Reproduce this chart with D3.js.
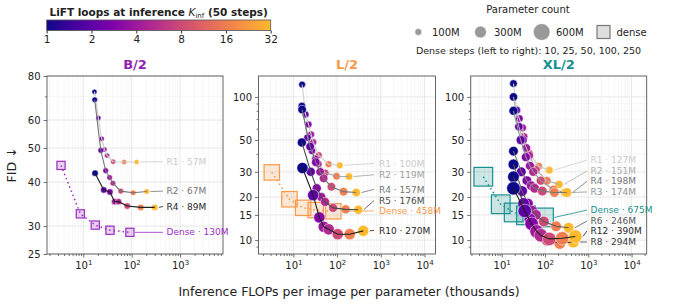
<!DOCTYPE html>
<html>
<head>
<meta charset="utf-8">
<script src="https://cdn.jsdelivr.net/npm/d3@7"></script>
<style>
body { margin: 0; background: #fff; }
text { font-family: "DejaVu Sans", sans-serif; }
</style>
</head>
<body>
<svg id="chart" width="694" height="305"></svg>
<script>
// inference loop counts (colour) and dense sampling steps
var kValues = [1, 2, 3, 4, 5, 8, 16, 32];
var colorTicks = [1, 2, 4, 8, 16, 32];
var denseSteps = [10, 25, 50, 100, 250];

// B/2
var b2R1X = [17, 20.5, 24, 27.5, 31, 41.5, 70, 126];
var b2R1Fid = [72.2, 60.8, 53.1, 49.5, 47.6, 45.7, 45.6, 45.6];
var b2R2X = [17.2, 23, 29, 35, 41, 59.5, 107, 205];
var b2R2Fid = [68.5, 49.2, 43.1, 41.2, 39.7, 37.7, 37.3, 37.6];
var b2R4X = [17.5, 26.5, 35.5, 44.5, 53.5, 81, 154, 300];
var b2R4Fid = [42.4, 38.0, 37.5, 35.2, 35.2, 34.2, 33.9, 33.9];
var b2DenseX = [3.46, 8.7, 17.7, 35.6, 92];
var b2DenseFid = [44.6, 32.5, 30.2, 29.2, 28.8];

// L/2
var l2R1X = [15.8, 19, 22.2, 25.4, 28.5, 38, 63.7, 114.6];
var l2R1Fid = [122, 75.4, 64.2, 54.7, 48.3, 39.2, 33.9, 33.3];
var l2R2X = [15.6, 21, 26.5, 31.8, 37.2, 53.5, 97, 187];
var l2R2Fid = [86.5, 52, 42, 37, 34, 29.5, 27.9, 27.8];
var l2R4X = [15.8, 24.1, 32.5, 40.8, 49.1, 74, 140, 274];
var l2R4Fid = [81.6, 45, 35, 30, 27, 23.6, 21.8, 21.5];
var l2R5X = [15.6, 24.9, 34.2, 43.5, 52.9, 80.8, 157, 305];
var l2R5Fid = [48.1, 30, 23, 20, 18.5, 16.8, 16.4, 16.3];
var l2R10X = [16.1, 28.3, 39.2, 49.4, 64.3, 103, 194, 396];
var l2R10Fid = [31.9, 20.6, 14.4, 12.4, 11.9, 11.0, 11.0, 11.6];
var l2DenseX = [3.2, 8.1, 16.7, 32.4, 81.8];
var l2DenseFid = [29.7, 19.3, 16.8, 16.2, 15.9];

// XL/2
var xl2R1X = [18.7, 22.2, 25.5, 30.5, 32.7, 43.4, 71.5, 125.6];
var xl2R1Fid = [124, 80.8, 70.7, 60.8, 52.9, 40.3, 32.8, 30.8];
var xl2R2X = [18.7, 24.9, 31, 37.2, 43.4, 61.9, 111, 210];
var xl2R2Fid = [100, 62, 50, 44, 39, 31, 26, 24.5];
var xl2R3X = [18.7, 27.4, 36.1, 44.8, 53.5, 79.6, 157, 288];
var xl2R3Fid = [80, 50, 38, 33, 30, 26, 22.5, 21.5];
var xl2R4X = [18.7, 28.4, 38.2, 47.9, 57.6, 86.8, 165, 320];
var xl2R4Fid = [41.8, 30, 26, 24, 23, 22, 21.5, 21.5];
var xl2R6X = [18.7, 29.5, 40.2, 51, 61.7, 94, 180, 352];
var xl2R6Fid = [33.8, 22, 18, 16, 15, 13.5, 12.5, 12.2];
var xl2R8X = [18.7, 32, 45, 58, 72, 112, 220, 450];
var xl2R8Fid = [27.7, 18, 14, 12, 11.2, 10, 9.5, 9.7];
var xl2R12X = [18.7, 34, 49, 64, 80, 126, 250, 500];
var xl2R12Fid = [23, 16, 13, 11.5, 10.8, 10.2, 10.3, 10.6];
var xl2DenseX = [3.76, 9.5, 18.9, 36.4, 94.8];
var xl2DenseFid = [27.7, 17.8, 15.6, 14.9, 14.4];

var svg = d3.select("#chart");

var plasmaMax = 0.85;
var kScale = d3.scaleLog().base(2).domain([1, 32]).range([0, plasmaMax]);
function kColor(k) { return d3.interpolatePlasma(kScale(k)); }
function diam(p) { return 0.68 * Math.sqrt(p); }
function side(p) { return 0.72 * Math.sqrt(p); }
function grey(v) { var c = Math.round(v * 255); return "rgb(" + c + "," + c + "," + c + ")"; }

var panels = [
  {
    name: "B/2", color: "#8f1fb0", left: 47, right: 223, top: 76, bottom: 254,
    xDom: [1.775, 7745], yDom: [25, 80],
    yMajor: [25, 30, 40, 50, 60, 80], yMinor: [70],
    xMajor: [10, 100, 1000],
    labelX: 166.5, leaderX: 163,
    series: [
      { x: b2R1X, fid: b2R1Fid, params: 57, label: "R1 \u00b7 57M", labelFid: 45.7 },
      { x: b2R2X, fid: b2R2Fid, params: 67, label: "R2 \u00b7 67M", labelFid: 37.7 },
      { x: b2R4X, fid: b2R4Fid, params: 89, label: "R4 \u00b7 89M", labelFid: 34.1 }
    ],
    dense: { x: b2DenseX, fid: b2DenseFid, params: 130, label: "Dense \u00b7 130M", labelFid: 28.8, color: "#9a2fc0" }
  },
  {
    name: "L/2", color: "#f7994a", left: 258.5, right: 435.5, top: 76, bottom: 254,
    xDom: [1.588, 17830], yDom: [8, 140],
    yMajor: [10, 15, 20, 30, 50, 100], yMinor: [9, 40, 60, 70, 80, 90],
    xMajor: [10, 100, 1000, 10000],
    labelX: 379, leaderX: 374,
    series: [
      { x: l2R1X, fid: l2R1Fid, params: 100, label: "R1 \u00b7 100M", labelFid: 34.3 },
      { x: l2R2X, fid: l2R2Fid, params: 119, label: "R2 \u00b7 119M", labelFid: 28.6 },
      { x: l2R4X, fid: l2R4Fid, params: 157, label: "R4 \u00b7 157M", labelFid: 22.6 },
      { x: l2R5X, fid: l2R5Fid, params: 176, label: "R5 \u00b7 176M", labelFid: 18.9 },
      { x: l2R10X, fid: l2R10Fid, params: 270, label: "R10 \u00b7 270M", labelFid: 11.7 }
    ],
    dense: { x: l2DenseX, fid: l2DenseFid, params: 458, label: "Dense \u00b7 458M", labelFid: 16.0, color: "#f7994a" }
  },
  {
    name: "XL/2", color: "#16908f", left: 470.7, right: 646.7, top: 76, bottom: 254,
    xDom: [1.923, 22340], yDom: [8, 140],
    yMajor: [10, 15, 20, 30, 50, 100], yMinor: [9, 40, 60, 70, 80, 90],
    xMajor: [10, 100, 1000, 10000],
    labelX: 590.5, leaderX: 587,
    series: [
      { x: xl2R1X, fid: xl2R1Fid, params: 127, label: "R1 \u00b7 127M", labelFid: 36.2 },
      { x: xl2R2X, fid: xl2R2Fid, params: 151, label: "R2 \u00b7 151M", labelFid: 30.4 },
      { x: xl2R3X, fid: xl2R3Fid, params: 174, label: "R3 \u00b7 174M", labelFid: 21.7 },
      { x: xl2R4X, fid: xl2R4Fid, params: 198, label: "R4 \u00b7 198M", labelFid: 25.8 },
      { x: xl2R6X, fid: xl2R6Fid, params: 246, label: "R6 \u00b7 246M", labelFid: 13.6 },
      { x: xl2R8X, fid: xl2R8Fid, params: 294, label: "R8 \u00b7 294M", labelFid: 9.7 },
      { x: xl2R12X, fid: xl2R12Fid, params: 390, label: "R12 \u00b7 390M", labelFid: 11.6 }
    ],
    dense: { x: xl2DenseX, fid: xl2DenseFid, params: 675, label: "Dense \u00b7 675M", labelFid: 16.2, color: "#16908f" }
  }
];

function drawPanel(p) {
  var x = d3.scaleLog().domain(p.xDom).range([p.left, p.right]);
  var y = d3.scaleLog().domain(p.yDom).range([p.bottom, p.top]);
  var g = svg.append("g");

  // grid
  var xMinor = x.ticks().filter(function(v) { return p.xMajor.indexOf(v) < 0; });
  g.selectAll(".xminor").data(xMinor).enter().append("line")
    .attr("x1", x).attr("x2", x).attr("y1", p.top).attr("y2", p.bottom)
    .attr("stroke", "#f0f0f0").attr("stroke-width", 0.6);
  g.selectAll(".yminor").data(p.yMinor).enter().append("line")
    .attr("y1", y).attr("y2", y).attr("x1", p.left).attr("x2", p.right)
    .attr("stroke", "#f0f0f0").attr("stroke-width", 0.6);
  g.selectAll(".xmajor").data(p.xMajor).enter().append("line")
    .attr("x1", x).attr("x2", x).attr("y1", p.top).attr("y2", p.bottom)
    .attr("stroke", "#e2e2e2").attr("stroke-width", 0.8);
  g.selectAll(".ymajor").data(p.yMajor).enter().append("line")
    .attr("y1", y).attr("y2", y).attr("x1", p.left).attr("x2", p.right)
    .attr("stroke", "#e2e2e2").attr("stroke-width", 0.8);

  // axes
  var xa = g.append("g").attr("transform", "translate(0," + p.bottom + ")")
    .call(d3.axisBottom(x).tickValues(p.xMajor).tickSize(3.5).tickPadding(4).tickFormat(function() { return "10"; }));
  xa.selectAll(".tick text").each(function(d) {
    d3.select(this).append("tspan").attr("dy", "-0.5em").attr("font-size", "7px").text(Math.round(Math.log10(d)));
  });
  g.append("g").attr("transform", "translate(0," + p.bottom + ")")
    .call(d3.axisBottom(x).tickValues(xMinor).tickSize(2).tickFormat(""));
  g.append("g").attr("transform", "translate(" + p.left + ",0)")
    .call(d3.axisLeft(y).tickValues(p.yMajor).tickSize(3.5).tickPadding(3).tickFormat(d3.format("d")));
  g.append("g").attr("transform", "translate(" + p.left + ",0)")
    .call(d3.axisLeft(y).tickValues(p.yMinor).tickSize(2).tickFormat(""));
  g.selectAll(".domain").remove();
  g.selectAll(".tick line").attr("stroke", "#333").attr("stroke-width", 0.7);
  g.selectAll(".tick text").attr("font-size", "10px").attr("fill", "#222")
    .attr("font-family", "DejaVu Sans, sans-serif");

  g.append("rect").attr("x", p.left).attr("y", p.top)
    .attr("width", p.right - p.left).attr("height", p.bottom - p.top)
    .attr("fill", "none").attr("stroke", "#555").attr("stroke-width", 0.9);

  // title
  g.append("text").attr("x", (p.left + p.right) / 2).attr("y", 69)
    .attr("text-anchor", "middle").attr("font-size", "13px").attr("font-weight", "bold")
    .attr("fill", p.color).text(p.name);

  var line = d3.line().x(function(d) { return x(d[0]); }).y(function(d) { return y(d[1]); });
  var n = p.series.length;

  // dense baseline
  var dn = p.dense;
  var dpts = dn.x.map(function(v, i) { return [v, dn.fid[i]]; });
  var s = side(dn.params);
  g.selectAll(".dsq").data(dpts).enter().append("rect")
    .attr("x", function(d) { return x(d[0]) - s / 2; })
    .attr("y", function(d) { return y(d[1]) - s / 2; })
    .attr("width", s).attr("height", s)
    .attr("fill", dn.color).attr("fill-opacity", 0.22)
    .attr("stroke", dn.color).attr("stroke-width", 1.2);
  g.append("path").attr("d", line(dpts)).attr("fill", "none")
    .attr("stroke", dn.color).attr("stroke-width", 1.5).attr("stroke-dasharray", "1.5,3");
  var dlast = dpts[dpts.length - 1];
  g.append("line").attr("x1", x(dlast[0]) + s / 2 + 1).attr("y1", y(dlast[1]))
    .attr("x2", p.leaderX).attr("y2", y(dn.labelFid))
    .attr("stroke", dn.color).attr("stroke-width", 0.8);
  g.append("text").attr("x", p.labelX).attr("y", y(dn.labelFid)).attr("dy", "0.35em")
    .attr("font-size", "9px").attr("fill", dn.color).text(dn.label);

  // LiFT series
  p.series.forEach(function(sr, si) {
    var shade = grey(n === 1 ? 0.3 : 0.8 - 0.68 * si / (n - 1));
    var pts = sr.x.map(function(v, i) { return [v, sr.fid[i], kValues[i]]; });
    var r = diam(sr.params) / 2;
    g.selectAll(".pt" + si).data(pts).enter().append("circle")
      .attr("cx", function(d) { return x(d[0]); })
      .attr("cy", function(d) { return y(d[1]); })
      .attr("r", r)
      .attr("fill", function(d) { return kColor(d[2]); })
      .attr("stroke", "#fff").attr("stroke-width", 0.5);
    g.append("path").attr("d", line(pts)).attr("fill", "none")
      .attr("stroke", shade).attr("stroke-width", 1.1);
    var last = pts[pts.length - 1];
    g.append("line").attr("x1", x(last[0]) + r + 1).attr("y1", y(last[1]))
      .attr("x2", p.leaderX).attr("y2", y(sr.labelFid))
      .attr("stroke", shade).attr("stroke-width", 0.8);
    g.append("text").attr("x", p.labelX).attr("y", y(sr.labelFid)).attr("dy", "0.35em")
      .attr("font-size", "9px").attr("fill", shade).text(sr.label);
  });
}

panels.forEach(drawPanel);

// colour bar
var cbLeft = 46.7, cbRight = 270.7, cbTop = 20, cbBottom = 30.5;
var cbScale = d3.scaleLog().base(2).domain([1, 32]).range([cbLeft, cbRight]);
var grad = svg.append("defs").append("linearGradient").attr("id", "cbgrad");
d3.range(0, 1.0001, 0.05).forEach(function(t) {
  grad.append("stop").attr("offset", t).attr("stop-color", d3.interpolatePlasma(t * plasmaMax));
});
svg.append("rect").attr("x", cbLeft).attr("y", cbTop).attr("width", cbRight - cbLeft)
  .attr("height", cbBottom - cbTop).attr("fill", "url(#cbgrad)")
  .attr("stroke", "#555").attr("stroke-width", 0.8);
var cbAxis = svg.append("g").attr("transform", "translate(0," + cbBottom + ")")
  .call(d3.axisBottom(cbScale).tickValues(colorTicks).tickSize(3).tickPadding(2).tickFormat(d3.format("d")));
cbAxis.select(".domain").remove();
cbAxis.selectAll(".tick line").attr("stroke", "#333");
cbAxis.selectAll(".tick text").attr("font-size", "10.5px").attr("fill", "#222")
  .attr("font-family", "DejaVu Sans, sans-serif");
var cbTitle = svg.append("text").attr("x", (cbLeft + cbRight) / 2).attr("y", 15.5)
  .attr("text-anchor", "middle").attr("font-size", "10.5px").attr("font-weight", "bold").attr("fill", "#222");
cbTitle.append("tspan").text("LiFT loops at inference ");
cbTitle.append("tspan").attr("font-style", "italic").attr("font-weight", "normal").text("K");
cbTitle.append("tspan").attr("font-weight", "normal").attr("font-size", "7px").attr("dy", "2").text("inf");
cbTitle.append("tspan").attr("dy", "-2").text(" (50 steps)");

// size legend
var legendItems = [
  { label: "100M", params: 100, cx: 418.3, tx: 432 },
  { label: "300M", params: 300, cx: 480.5, tx: 494 },
  { label: "600M", params: 600, cx: 541.7, tx: 556 }
];
svg.append("text").attr("x", 528).attr("y", 13).attr("text-anchor", "middle")
  .attr("font-size", "10px").attr("fill", "#222").text("Parameter count");
legendItems.forEach(function(it) {
  svg.append("circle").attr("cx", it.cx).attr("cy", 32).attr("r", diam(it.params) / 2)
    .attr("fill", "#999").attr("stroke", "#fff").attr("stroke-width", 0.5);
  svg.append("text").attr("x", it.tx).attr("y", 32).attr("dy", "0.35em")
    .attr("font-size", "10px").attr("fill", "#222").text(it.label);
});
svg.append("rect").attr("x", 597).attr("y", 25.5).attr("width", 13).attr("height", 13)
  .attr("fill", "#dedede").attr("stroke", "#777").attr("stroke-width", 1.2);
svg.append("text").attr("x", 616.5).attr("y", 32).attr("dy", "0.35em")
  .attr("font-size", "10px").attr("fill", "#222").text("dense");
svg.append("text").attr("x", 528.5).attr("y", 51).attr("dy", "0.35em").attr("text-anchor", "middle")
  .attr("font-size", "9.5px").attr("fill", "#222")
  .text("Dense steps (left to right): " + denseSteps.join(", "));

// axis titles
svg.append("text").attr("transform", "translate(16,165) rotate(-90)").attr("text-anchor", "middle")
  .attr("font-size", "12.5px").attr("fill", "#222").text("FID \u2193");
svg.append("text").attr("x", 349).attr("y", 296).attr("text-anchor", "middle")
  .attr("font-size", "12.5px").attr("fill", "#222")
  .text("Inference FLOPs per image per parameter (thousands)");
</script>
</body>
</html>
